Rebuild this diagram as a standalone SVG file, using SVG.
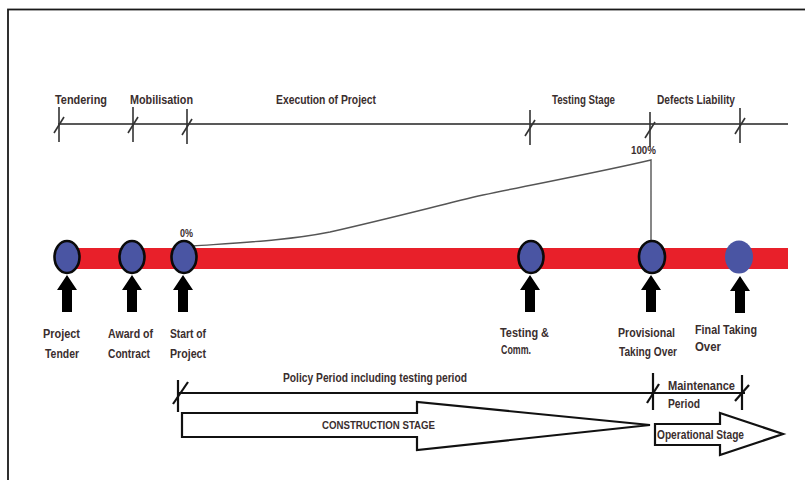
<svg xmlns="http://www.w3.org/2000/svg" width="805" height="480" viewBox="0 0 805 480">
  <style>
    .lbl { font-family: "Liberation Sans", Arial, sans-serif; font-weight: bold; font-size: 12px; fill: #3a2e2e; }
    .sm { font-size: 10.5px; }
    .ln { stroke: #222; stroke-width: 1.3; fill: none; }
    .tick { stroke: #333; stroke-width: 1.6; fill: none; }
    .thick { stroke: #111; stroke-width: 2.2; fill: none; }
    .node { fill: #4a55a3; stroke: #0a0a0a; stroke-width: 2.6; }
    .upar { fill: #000; }
    .stage { fill: #fff; stroke: #111; stroke-width: 2.2; stroke-linejoin: miter; }
  </style>
  <defs>
    <polygon id="up" class="upar" points="0,0 10,15 5,15 5,37 -5,37 -5,15 -10,15"/>
    <g id="tk">
      <line class="tick" x1="0" y1="-17" x2="0" y2="18"/>
      <line class="tick" x1="-5" y1="9" x2="5" y2="-7"/>
    </g>
  </defs>

  <rect x="0" y="0" width="805" height="480" fill="#fff"/>
  <!-- page frame -->
  <rect x="8" y="9.5" width="820" height="500" fill="none" stroke="#1a1a1a" stroke-width="1.8"/>

  <!-- phase scale along the top -->
  <g id="phase-scale">
    <line class="ln" x1="58" y1="124" x2="788" y2="124"/>
    <use href="#tk" x="59" y="124"/>
    <use href="#tk" x="133" y="124"/>
    <use href="#tk" x="187" y="126"/>
    <use href="#tk" x="530" y="127"/>
    <use href="#tk" x="650" y="129"/>
    <use href="#tk" x="740" y="125"/>
    <text class="lbl" x="55" y="104" textLength="52" lengthAdjust="spacingAndGlyphs">Tendering</text>
    <text class="lbl" x="130" y="104" textLength="63" lengthAdjust="spacingAndGlyphs">Mobilisation</text>
    <text class="lbl" x="276" y="104" textLength="100" lengthAdjust="spacingAndGlyphs">Execution of Project</text>
    <text class="lbl" x="552" y="104" textLength="63" lengthAdjust="spacingAndGlyphs">Testing Stage</text>
    <text class="lbl" x="657" y="104" textLength="78" lengthAdjust="spacingAndGlyphs">Defects Liability</text>
  </g>

  <!-- progress curve 0% to 100% -->
  <g id="connectors">
    <path d="M193,246 C250,242 290,240 330,232 C400,216 440,205 483,195 C540,183 600,172 651,160 L651,243" fill="none" stroke="#555" stroke-width="1.4"/>
  </g>
  <text class="lbl sm" x="180" y="237" textLength="13" lengthAdjust="spacingAndGlyphs">0%</text>
  <text class="lbl sm" x="631" y="154" textLength="25" lengthAdjust="spacingAndGlyphs">100%</text>

  <!-- red timeline bar -->
  <rect id="timeline" x="65" y="248" width="723" height="21" fill="#e8202a"/>

  <!-- milestones -->
  <g id="project-tender">
    <ellipse class="node" cx="67" cy="257" rx="12.5" ry="16"/>
    <use href="#up" x="67" y="275"/>
    <text class="lbl" x="43" y="338" textLength="37" lengthAdjust="spacingAndGlyphs">Project</text>
    <text class="lbl" x="45" y="358" textLength="34" lengthAdjust="spacingAndGlyphs">Tender</text>
  </g>
  <g id="award-of-contract">
    <ellipse class="node" cx="132" cy="257" rx="12.5" ry="16"/>
    <use href="#up" x="132" y="275"/>
    <text class="lbl" x="108" y="338" textLength="45" lengthAdjust="spacingAndGlyphs">Award of</text>
    <text class="lbl" x="108" y="358" textLength="42" lengthAdjust="spacingAndGlyphs">Contract</text>
  </g>
  <g id="start-of-project">
    <ellipse class="node" cx="184" cy="257" rx="12.5" ry="16"/>
    <use href="#up" x="183" y="275"/>
    <text class="lbl" x="170" y="338" textLength="36" lengthAdjust="spacingAndGlyphs">Start of</text>
    <text class="lbl" x="170" y="358" textLength="36" lengthAdjust="spacingAndGlyphs">Project</text>
  </g>
  <g id="testing-comm">
    <ellipse class="node" cx="531" cy="257" rx="12.5" ry="16"/>
    <use href="#up" x="530" y="275"/>
    <text class="lbl" x="500" y="337" textLength="49" lengthAdjust="spacingAndGlyphs">Testing &amp;</text>
    <text class="lbl" x="501" y="354" textLength="30" lengthAdjust="spacingAndGlyphs">Comm.</text>
  </g>
  <g id="provisional-taking-over">
    <ellipse class="node" cx="652" cy="257" rx="13" ry="16"/>
    <use href="#up" x="651" y="275"/>
    <text class="lbl" x="618" y="337" textLength="57" lengthAdjust="spacingAndGlyphs">Provisional</text>
    <text class="lbl" x="619" y="356" textLength="58" lengthAdjust="spacingAndGlyphs">Taking Over</text>
  </g>
  <g id="final-taking-over">
    <ellipse cx="739" cy="257" rx="14" ry="16.5" fill="#4a55a3"/>
    <use href="#up" x="740" y="276"/>
    <text class="lbl" x="695" y="334" textLength="62" lengthAdjust="spacingAndGlyphs">Final Taking</text>
    <text class="lbl" x="695" y="351" textLength="26" lengthAdjust="spacingAndGlyphs">Over</text>
  </g>

  <!-- contract periods -->
  <g id="periods">
    <line class="thick" x1="179" y1="393" x2="745" y2="393"/>
    <line class="thick" x1="178" y1="380" x2="178" y2="412"/>
    <line class="thick" x1="173" y1="404" x2="188" y2="382"/>
    <line class="thick" x1="653" y1="373" x2="653" y2="410"/>
    <line class="thick" x1="647" y1="403" x2="659" y2="384"/>
    <line class="thick" x1="742" y1="375" x2="742" y2="410"/>
    <line class="thick" x1="735" y1="401" x2="749" y2="385"/>
    <text class="lbl" x="283" y="382" textLength="184" lengthAdjust="spacingAndGlyphs">Policy Period including testing period</text>
    <text class="lbl" x="668" y="390" textLength="67" lengthAdjust="spacingAndGlyphs">Maintenance</text>
    <text class="lbl" x="668" y="408" textLength="32" lengthAdjust="spacingAndGlyphs">Period</text>
  </g>

  <!-- stage arrows -->
  <g id="construction-stage">
    <polygon class="stage" points="182,413 417,413 417,402 650,425 417,450 417,437 182,437"/>
    <text class="lbl sm" x="322" y="429" textLength="113" lengthAdjust="spacingAndGlyphs">CONSTRUCTION STAGE</text>
  </g>
  <g id="operational-stage">
    <polygon class="stage" points="655,424 720,424 720,413 783,434 720,455 720,445 655,445"/>
    <text class="lbl" x="657" y="439" textLength="87" lengthAdjust="spacingAndGlyphs">Operational Stage</text>
  </g>
</svg>
